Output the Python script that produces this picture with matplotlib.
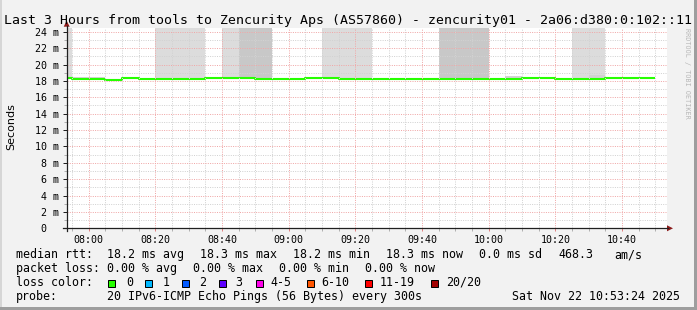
import matplotlib.pyplot as plt
from matplotlib.transforms import Affine2D
from matplotlib.patches import Rectangle, Polygon
from matplotlib.lines import Line2D
from matplotlib.ticker import MultipleLocator, FuncFormatter

W, H = 697, 310

# 5 minute steps (start time) and median rtt (ms)
step_start = ["07:50", "07:55", "08:00", "08:05", "08:10", "08:15", "08:20", "08:25", "08:30",
              "08:35", "08:40", "08:45", "08:50", "08:55", "09:00", "09:05", "09:10", "09:15",
              "09:20", "09:25", "09:30", "09:35", "09:40", "09:45", "09:50", "09:55", "10:00",
              "10:05", "10:10", "10:15", "10:20", "10:25", "10:30", "10:35", "10:40", "10:45"]
median_ms = [18.31, 18.23, 18.23, 18.17, 18.35, 18.21, 18.27, 18.27, 18.27,
             18.31, 18.31, 18.31, 18.23, 18.23, 18.23, 18.31, 18.31, 18.23,
             18.23, 18.25, 18.25, 18.25, 18.25, 18.25, 18.19, 18.19, 18.27,
             18.19, 18.31, 18.35, 18.25, 18.25, 18.25, 18.35, 18.35, 18.35]
# steps where some pings went off scale (smoke up to the top)
smoke_light = ["07:50", "08:20", "08:25", "08:30", "08:40", "09:10", "09:15", "09:20", "10:25", "10:30"]
smoke_dark = ["08:45", "08:50", "09:45", "09:50", "09:55"]
offscale_ms = 30.0
# small smoke right above the median
smoke_small = ["07:55", "08:00", "08:35", "10:00", "10:05", "10:30"]
smoke_small_top = [18.45, 18.45, 18.5, 18.4, 18.55, 18.75]

# legend texts
rtt_stats = ["18.2 ms avg", "18.3 ms max", "18.2 ms min", "18.3 ms now", "0.0 ms sd", "468.3", "am/s"]
loss_stats = ["0.00 % avg", "0.00 % max", "0.00 % min", "0.00 % now"]
loss_labels = ["0", "1", "2", "3", "4-5", "6-10", "11-19", "20/20"]
loss_colors = ["#26ff00", "#00b8ff", "#0059ff", "#5e00ff", "#ff00ea", "#ff5500", "#ff0000", "#a10000"]


def tmin(s):
    h, m = s.split(":")
    return int(h) * 60 + int(m)


t0 = tmin("07:53") + 0.4
t1 = t0 + 180

MONO = "DejaVu Sans Mono"
fig = plt.figure(figsize=(W / 100, H / 100), dpi=100, facecolor="#f2f2f2")
pix = Affine2D().scale(1 / W, -1 / H).translate(0, 1) + fig.transFigure

# frame shading
fig.add_artist(Rectangle((0, 0), 2, H, transform=pix, color="#d6d6d6", lw=0))
fig.add_artist(Rectangle((0, H - 3), W, 3, transform=pix, color="#9e9e9e", lw=0))
fig.add_artist(Rectangle((W - 3, 0), 3, H, transform=pix, color="#9e9e9e", lw=0))

L, R, T, B = 66.7, 666.7, 27.7, 228.3
ax = fig.add_axes([L / W, 1 - B / H, (R - L) / W, (B - T) / H])
ax.set_facecolor("white")

xs = [tmin(s) for s in step_start]
ax.bar([tmin(s) for s in smoke_light],
       [offscale_ms - median_ms[step_start.index(s)] for s in smoke_light],
       bottom=[median_ms[step_start.index(s)] for s in smoke_light],
       width=5, align="edge", color="#dcdcdc", lw=0, zorder=1)
ax.bar([tmin(s) for s in smoke_dark],
       [offscale_ms - median_ms[step_start.index(s)] for s in smoke_dark],
       bottom=[median_ms[step_start.index(s)] for s in smoke_dark],
       width=5, align="edge", color="#c8c8c8", lw=0, zorder=1)
ax.bar([tmin(s) for s in smoke_small],
       [top - median_ms[step_start.index(s)] for s, top in zip(smoke_small, smoke_small_top)],
       bottom=[median_ms[step_start.index(s)] for s in smoke_small],
       width=5, align="edge", color="#d2d2d2", lw=0, zorder=1.1)

ax.step(xs + [xs[-1] + 5], median_ms + [median_ms[-1]], where="post",
        color=loss_colors[0], lw=1.5, zorder=2, solid_capstyle="butt")

ax.set_xlim(t0, t1)
ax.set_ylim(0, 24.5)
ax.xaxis.set_major_locator(MultipleLocator(20))
ax.xaxis.set_minor_locator(MultipleLocator(5))
ax.yaxis.set_major_locator(MultipleLocator(2))
ax.yaxis.set_minor_locator(MultipleLocator(1))
ax.xaxis.set_major_formatter(FuncFormatter(lambda v, p: f"{int(v) // 60:02d}:{int(v) % 60:02d}"))
ax.yaxis.set_major_formatter(FuncFormatter(lambda v, p: "0  " if v == 0 else f"{int(v)} m"))

ax.set_axisbelow(False)
ax.grid(which="minor", color="#d2d2d2", lw=0.72, ls=(0, (1, 1.3)))
ax.grid(which="major", color="#f0a8a8", lw=0.72, ls=(0, (1, 1.3)))

for sp in ax.spines.values():
    sp.set_visible(False)
ax.tick_params(axis="both", which="both", labelsize=7.2, colors="#000000")
ax.tick_params(axis="x", which="major", length=2, width=0.72, color="#e08080", pad=2.5)
ax.tick_params(axis="x", which="minor", length=2, width=0.72, color="#b0b0b0")
ax.tick_params(axis="y", which="major", length=3, width=0.72, color="#202020", pad=2.6)
ax.tick_params(axis="y", which="minor", length=2, width=0.72, color="#b0b0b0")
for lab in ax.get_xticklabels() + ax.get_yticklabels():
    lab.set_family(MONO)

# axes lines with arrows
fig.add_artist(Line2D([L, L], [B + 3, T - 2], transform=pix, color="#202020", lw=0.9))
fig.add_artist(Line2D([L - 4, 668], [B, B], transform=pix, color="#202020", lw=0.9))
fig.add_artist(Polygon([[L - 3, T - 1], [L + 3, T - 1], [L, T - 7]], transform=pix,
                       closed=True, color="#8b1a1a", lw=0))
fig.add_artist(Polygon([[667, B - 3], [667, B + 3], [673, B]], transform=pix,
                       closed=True, color="#8b1a1a", lw=0))

# texts
fig.text(4, 24, "Last 3 Hours from tools to Zencurity Aps (AS57860) - zencurity01 - 2a06:d380:0:102::11",
         transform=pix, family=MONO, size=9.57, va="baseline", ha="left", zorder=5)
fig.text(686.5, 28, "RRDTOOL / TOBI OETIKER", transform=pix, family=MONO, size=4.9,
         rotation=270, va="top", ha="center", color="#b8b8b8", zorder=1)
fig.text(11, 127, "Seconds", transform=pix, family="DejaVu Sans", size=8,
         rotation=90, va="center", ha="center")

FS = 8.37
rows = [258.3, 272.1, 285.9, 299.7]
fig.text(16, rows[0], "median rtt:", transform=pix, family=MONO, size=FS, va="baseline")
for x, s in zip([107.3, 200, 293.3, 386, 479.3, 558.3, 614.3], rtt_stats):
    fig.text(x, rows[0], s, transform=pix, family=MONO, size=FS, va="baseline")
fig.text(16, rows[1], "packet loss:", transform=pix, family=MONO, size=FS, va="baseline")
for x, s in zip([107.3, 193.3, 279.3, 365], loss_stats):
    fig.text(x, rows[1], s, transform=pix, family=MONO, size=FS, va="baseline")
fig.text(16, rows[2], "loss color:", transform=pix, family=MONO, size=FS, va="baseline")
for xq, xl, lab, c in zip([108.3, 145.3, 182.3, 219.3, 256, 306.7, 365, 430.7],
                          [126, 162.3, 199, 235.7, 270.7, 321.7, 380, 445.7],
                          loss_labels, loss_colors):
    fig.add_artist(Rectangle((xq, 279.5), 7, 7, transform=pix, facecolor=c,
                             edgecolor="black", lw=0.72))
    fig.text(xl, rows[2], lab, transform=pix, family=MONO, size=FS, va="baseline")
fig.text(16, rows[3], "probe:", transform=pix, family=MONO, size=FS, va="baseline")
fig.text(107.3, rows[3], "20 IPv6-ICMP Echo Pings (56 Bytes) every 300s", transform=pix,
         family=MONO, size=FS, va="baseline")
fig.text(680.5, rows[3], "Sat Nov 22 10:53:24 2025", transform=pix, family=MONO, size=FS,
         va="baseline", ha="right")

fig.savefig("out.png", dpi=100, facecolor=fig.get_facecolor())
